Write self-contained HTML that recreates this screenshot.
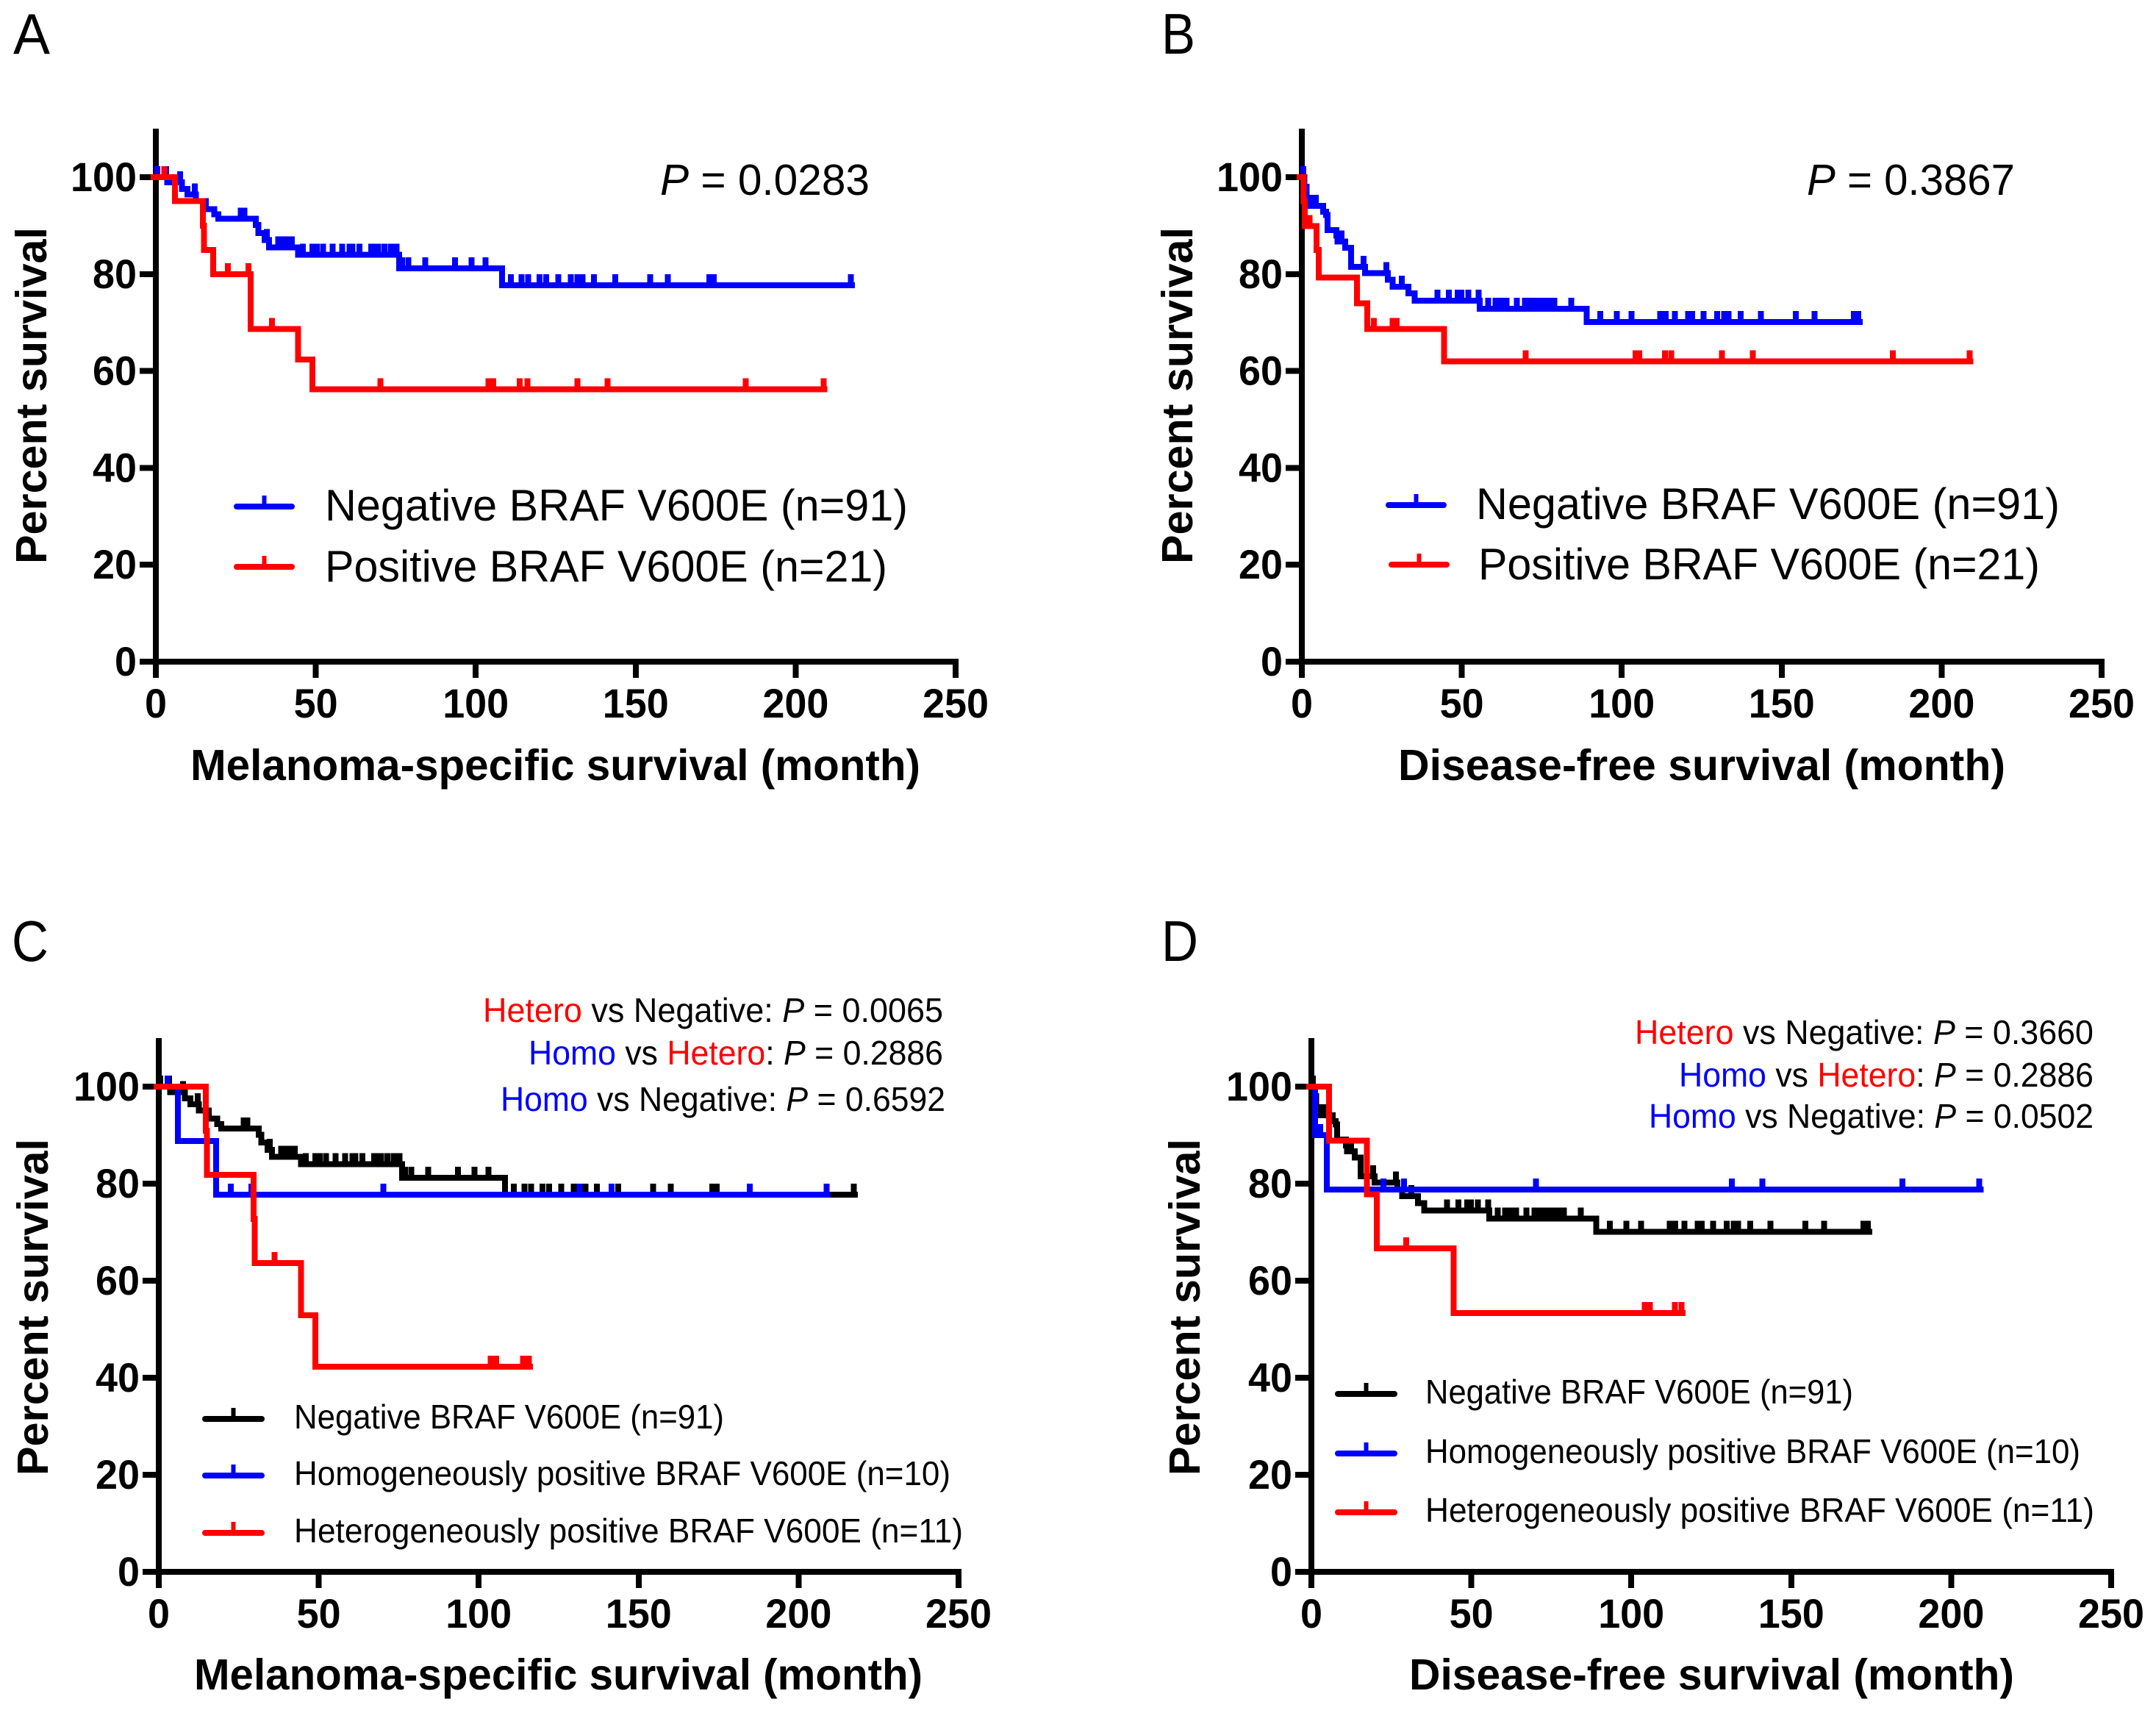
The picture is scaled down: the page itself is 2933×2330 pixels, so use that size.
<!DOCTYPE html>
<html>
<head>
<meta charset="utf-8">
<title>Survival curves by BRAF V600E status</title>
<style>
html,body{margin:0;padding:0;background:#fff;}
svg{display:block;}
text{font-family:"Liberation Sans",sans-serif;fill:#000;}
.b{font-weight:bold;}
.panel-letter{font-size:78px;}
.title{font-size:59px;font-weight:bold;}
.leg{font-size:60px;}
.leg2{font-size:46px;}
.ann{font-size:46px;}
.pv{font-size:59px;}
.tick{font-size:56px;font-weight:bold;}
</style>
</head>
<body>
<svg id="figure" xmlns="http://www.w3.org/2000/svg" width="2933" height="2330" viewBox="0 0 2933 2330">
<rect width="2933" height="2330" fill="#fff"/>

<g id="panel-a">
<text class="panel-letter" x="18" y="73" textLength="50" lengthAdjust="spacingAndGlyphs">A</text>
<text class="pv" x="898" y="265" textLength="285" lengthAdjust="spacingAndGlyphs"><tspan font-style="italic">P</tspan> = 0.0283</text>
<text class="title" x="259" y="1061" textLength="993" lengthAdjust="spacingAndGlyphs">Melanoma-specific survival (month)</text>
<text class="title" transform="translate(63,767) rotate(-90)" textLength="458" lengthAdjust="spacingAndGlyphs">Percent survival</text>
<text class="leg" x="442" y="708" textLength="793" lengthAdjust="spacingAndGlyphs">Negative BRAF V600E (n=91)</text>
<text class="leg" x="442" y="791" textLength="765" lengthAdjust="spacingAndGlyphs">Positive BRAF V600E (n=21)</text>
</g>

<g id="panel-b">
<text class="panel-letter" x="1580" y="73" textLength="46" lengthAdjust="spacingAndGlyphs">B</text>
<text class="pv" x="2458" y="265" textLength="283" lengthAdjust="spacingAndGlyphs"><tspan font-style="italic">P</tspan> = 0.3867</text>
<text class="title" x="1902" y="1061" textLength="826" lengthAdjust="spacingAndGlyphs">Disease-free survival (month)</text>
<text class="title" transform="translate(1622,767) rotate(-90)" textLength="458" lengthAdjust="spacingAndGlyphs">Percent survival</text>
<text class="leg" x="2008" y="706" textLength="794" lengthAdjust="spacingAndGlyphs">Negative BRAF V600E (n=91)</text>
<text class="leg" x="2011" y="788" textLength="764" lengthAdjust="spacingAndGlyphs">Positive BRAF V600E (n=21)</text>
</g>

<g id="panel-c">
<text class="panel-letter" x="16" y="1307" textLength="50" lengthAdjust="spacingAndGlyphs">C</text>
<text class="ann" x="657" y="1390" textLength="626" lengthAdjust="spacingAndGlyphs"><tspan fill="#f00">Hetero</tspan> vs Negative: <tspan font-style="italic">P</tspan> = 0.0065</text>
<text class="ann" x="719" y="1448" textLength="564" lengthAdjust="spacingAndGlyphs"><tspan fill="#00f">Homo</tspan> vs <tspan fill="#f00">Hetero</tspan>: <tspan font-style="italic">P</tspan> = 0.2886</text>
<text class="ann" x="681" y="1511" textLength="605" lengthAdjust="spacingAndGlyphs"><tspan fill="#00f">Homo</tspan> vs Negative: <tspan font-style="italic">P</tspan> = 0.6592</text>
<text class="title" x="264" y="2298" textLength="991" lengthAdjust="spacingAndGlyphs">Melanoma-specific survival (month)</text>
<text class="title" transform="translate(65,2007) rotate(-90)" textLength="458" lengthAdjust="spacingAndGlyphs">Percent survival</text>
<text class="leg2" x="400" y="1943" textLength="585" lengthAdjust="spacingAndGlyphs">Negative BRAF V600E (n=91)</text>
<text class="leg2" x="400" y="2020" textLength="893" lengthAdjust="spacingAndGlyphs">Homogeneously positive BRAF V600E (n=10)</text>
<text class="leg2" x="400" y="2098" textLength="910" lengthAdjust="spacingAndGlyphs">Heterogeneously positive BRAF V600E (n=11)</text>
</g>

<g id="panel-d">
<text class="panel-letter" x="1580" y="1307" textLength="50" lengthAdjust="spacingAndGlyphs">D</text>
<text class="ann" x="2224" y="1420" textLength="624" lengthAdjust="spacingAndGlyphs"><tspan fill="#f00">Hetero</tspan> vs Negative: <tspan font-style="italic">P</tspan> = 0.3660</text>
<text class="ann" x="2284" y="1478" textLength="564" lengthAdjust="spacingAndGlyphs"><tspan fill="#00f">Homo</tspan> vs <tspan fill="#f00">Hetero</tspan>: <tspan font-style="italic">P</tspan> = 0.2886</text>
<text class="ann" x="2243" y="1534" textLength="605" lengthAdjust="spacingAndGlyphs"><tspan fill="#00f">Homo</tspan> vs Negative: <tspan font-style="italic">P</tspan> = 0.0502</text>
<text class="title" x="1917" y="2298" textLength="823" lengthAdjust="spacingAndGlyphs">Disease-free survival (month)</text>
<text class="title" transform="translate(1632,2007) rotate(-90)" textLength="458" lengthAdjust="spacingAndGlyphs">Percent survival</text>
<text class="leg2" x="1939" y="1909" textLength="582" lengthAdjust="spacingAndGlyphs">Negative BRAF V600E (n=91)</text>
<text class="leg2" x="1939" y="1990" textLength="891" lengthAdjust="spacingAndGlyphs">Homogeneously positive BRAF V600E (n=10)</text>
<text class="leg2" x="1939" y="2070" textLength="910" lengthAdjust="spacingAndGlyphs">Heterogeneously positive BRAF V600E (n=11)</text>
</g>
</svg>

<script>
// Axis tick labels
const xTickLabels = [0, 50, 100, 150, 200, 250];
const yTickLabels = [0, 20, 40, 60, 80, 100];
const yAxisMax = 110;

// Melanoma-specific survival: BRAF V600E negative (n=91)
const msNegStepTimes = [3.6, 8.2, 9.9, 12.5, 15.6, 18.3, 19.5, 31.3, 32, 34, 35.4, 44.5, 76.1, 108.2];
const msNegStepSurvival = [98.9, 97.6, 96.4, 95.1, 93.4, 92.3, 91.4, 90.1, 88.5, 87, 85.5, 84, 81.2, 77.7];
const msNegCensored = [0.5, 3.2, 7.6, 12.2, 26.5, 27.7, 34.7, 38.3, 40.1, 41.6, 42.5, 45.9, 48.9, 50.3, 52.3, 55.3, 58.3, 60.6, 61.5, 63.7, 67.3, 68.4, 69.5, 71.5, 73.4, 75.3, 77, 78.9, 84.2, 93.5, 98.7, 103, 111, 114.3, 116.4, 120, 122, 125.8, 129.7, 131.8, 133.4, 137, 143.6, 154.5, 160, 173, 174.4, 217.2];
const msNegEnd = 217.6;

// Melanoma-specific survival: BRAF V600E positive (n=21)
const msPosStepTimes = [6, 14.7, 15, 17.9, 29.6, 44.5, 48.9];
const msPosStepSurvival = [95.1, 90, 85, 80, 68.7, 62.4, 56.2];
const msPosCensored = [2.6, 22.5, 28.9, 36.3, 70.2, 104, 105.5, 113.7, 116.2, 131.8, 141.2, 184.4, 208.8];
const msPosEnd = 209;

// Disease-free survival: BRAF V600E negative (n=91)
const dfNegStepTimes = [0.8, 1.5, 1.9, 6.7, 7.6, 8, 10.8, 11.1, 13.5, 15.4, 19.8, 26.9, 28.4, 33.3, 35.3, 55.6, 89];
const dfNegStepSurvival = [98, 95.3, 94.1, 92.9, 92.2, 89.1, 87.9, 86.7, 85.4, 81.5, 80.2, 78.8, 77.4, 76, 74.5, 72.8, 70.1];
const dfNegCensored = [0.5, 2.4, 3.4, 4.4, 11.6, 12.4, 19.3, 26.4, 31.3, 42.4, 45.9, 48.7, 49.9, 52.1, 55.3, 58.3, 60.5, 61.7, 62.8, 64, 67.2, 69.7, 70.9, 72, 73.2, 74.3, 75.5, 76.6, 77.8, 78.9, 84.2, 93.3, 98.5, 103, 112, 113.7, 116.6, 120.8, 122, 125.6, 129.8, 132, 133.4, 137.2, 143.5, 154.4, 160.3, 172.6, 174];
const dfNegEnd = 174.4;

// Disease-free survival: BRAF V600E positive (n=21)
const dfPosStepTimes = [0.55, 0.9, 4.6, 5.3, 17.2, 20.4, 44.5];
const dfPosStepSurvival = [95, 89.9, 85, 79.3, 74, 68.7, 62];
const dfPosCensored = [2.4, 22.5, 28.4, 29.6, 70, 104.3, 105.5, 113.5, 115.5, 131.3, 141, 184.7, 208.8];
const dfPosEnd = 209;

// Melanoma-specific survival: homogeneously positive (n=10)
const msHomoStepTimes = [6, 17.9];
const msHomoStepSurvival = [88.8, 77.7];
const msHomoCensored = [2.8, 22.5, 29, 70.2, 131.6, 141.5, 184.7, 208.8];
const msHomoEnd = 209;

// Melanoma-specific survival: heterogeneously positive (n=11)
const msHeteroStepTimes = [14.7, 15.1, 29.6, 30, 44.5, 49];
const msHeteroStepSurvival = [90.9, 81.8, 72.7, 63.6, 52.9, 42.3];
const msHeteroCensored = [36.2, 103.8, 105.5, 113.8, 115.7];
const msHeteroEnd = 116;

// Disease-free survival: homogeneously positive (n=10)
const dfHomoStepTimes = [1.2, 4.8];
const dfHomoStepSurvival = [90, 78.8];
const dfHomoCensored = [2.75, 22.5, 28.9, 70.2, 131.4, 141, 184.7, 208.8];
const dfHomoEnd = 209.2;

// Disease-free survival: heterogeneously positive (n=11)
const dfHeteroStepTimes = [5.5, 17.4, 20.4, 44.5];
const dfHeteroStepSurvival = [88.9, 77.8, 66.7, 53.3];
const dfHeteroCensored = [29.6, 104.2, 105.8, 113.6, 115.7];
const dfHeteroEnd = 116;

const NS = 'http://www.w3.org/2000/svg';
const BLACK = '#000', BLUE = '#00f', RED = '#f00';
const AXIS_W = 8, TICK_LEN = 22, CENSOR_H = 15;

function svgEl(parent, tag) {
  const el = document.createElementNS(NS, tag);
  parent.appendChild(el);
  return el;
}
function setAll(el, props) {
  for (const k in props) el.setAttribute(k, props[k]);
  return el;
}

function drawAxes(group, sx, sy) {
  const yAxis = svgEl(group, 'line');
  setAll(yAxis, {x1: sx(0), x2: sx(0), y1: sy(yAxisMax), y2: sy(0) + AXIS_W / 2, stroke: BLACK, 'stroke-width': AXIS_W, 'shape-rendering': 'crispEdges'});
  
  

  const xAxis = svgEl(group, 'line');
  setAll(xAxis, {x1: sx(0), x2: sx(xTickLabels[xTickLabels.length - 1]) + AXIS_W / 2, y1: sy(0), y2: sy(0), stroke: BLACK, 'stroke-width': AXIS_W, 'shape-rendering': 'crispEdges'});
  
  

  xTickLabels.forEach(function (v) {
    const t = svgEl(group, 'line');
    setAll(t, {x1: sx(v), x2: sx(v), y1: sy(0), y2: sy(0) + TICK_LEN, stroke: BLACK, 'stroke-width': AXIS_W, 'shape-rendering': 'crispEdges'});
    
    
    const l = svgEl(group, 'text');
    setAll(l, {x: sx(v), y: sy(0) + 76, 'text-anchor': 'middle', class: 'tick', textLength: String(v).length * 30, lengthAdjust: 'spacingAndGlyphs'});
    l.textContent = v;
    
    
  });
  yTickLabels.forEach(function (v) {
    const t = svgEl(group, 'line');
    setAll(t, {x1: sx(0) - TICK_LEN, x2: sx(0), y1: sy(v), y2: sy(v), stroke: BLACK, 'stroke-width': AXIS_W, 'shape-rendering': 'crispEdges'});
    
    
    const l = svgEl(group, 'text');
    setAll(l, {x: sx(0) - 26, y: sy(v) + 19, 'text-anchor': 'end', class: 'tick', textLength: String(v).length * 30, lengthAdjust: 'spacingAndGlyphs'});
    l.textContent = v;
    
    
  });
}

function survivalAt(t, times, surv) {
  let s = 100;
  for (let i = 0; i < times.length; i++) {
    if (times[i] <= t) s = surv[i];
  }
  return s;
}

function drawSeries(group, sx, sy, times, surv, censored, end, color, name) {
  const g = svgEl(group, 'g');
  
  
  let d = 'M' + (sx(0) - 3) + ' ' + sy(100);
  times.forEach(function (t, i) {
    d += 'H' + sx(t) + 'V' + sy(surv[i]);
  });
  d += 'H' + sx(end);
  const path = svgEl(g, 'path');
  setAll(path, {d: d, fill: 'none', stroke: color, 'stroke-width': 8, 'stroke-linejoin': 'miter', 'stroke-linecap': 'square', 'shape-rendering': 'crispEdges'});
  
  
  censored.forEach(function (t) {
    const y = sy(survivalAt(t, times, surv));
    const m = svgEl(g, 'line');
    setAll(m, {x1: sx(t), x2: sx(t), y1: y, y2: y - CENSOR_H, stroke: color, 'stroke-width': 8, 'shape-rendering': 'crispEdges'});
    
    
  });
}

function drawLegendLine(group, x1, x2, y, color) {
  const l = svgEl(group, 'line');
  setAll(l, {x1: x1, x2: x2, y1: y, y2: y, stroke: color, 'stroke-width': 8, 'stroke-linecap': 'round'});
  
  
  const m = svgEl(group, 'line');
  setAll(m, {x1: (x1 + x2) / 2, x2: (x1 + x2) / 2, y1: y, y2: y - 15, stroke: color, 'stroke-width': 6});
  
  
}

function makeScales(x0, x250, y100, y0) {
  return {
    sx: function (v) { return x0 + v * (x250 - x0) / 250; },
    sy: function (v) { return y0 - v * (y0 - y100) / 100; }
  };
}

(function () {
  const a = document.getElementById('panel-a');
  const s = makeScales(212, 1300, 241, 900);
  drawAxes(a, s.sx, s.sy);
  drawSeries(a, s.sx, s.sy, msNegStepTimes, msNegStepSurvival, msNegCensored, msNegEnd, BLUE, 'negative-curve');
  drawSeries(a, s.sx, s.sy, msPosStepTimes, msPosStepSurvival, msPosCensored, msPosEnd, RED, 'positive-curve');
  drawLegendLine(a, 322, 397, 689, BLUE);
  drawLegendLine(a, 322, 397, 771, RED);
})();

(function () {
  const b = document.getElementById('panel-b');
  const s = makeScales(1771, 2859, 241, 900);
  drawAxes(b, s.sx, s.sy);
  drawSeries(b, s.sx, s.sy, dfNegStepTimes, dfNegStepSurvival, dfNegCensored, dfNegEnd, BLUE, 'negative-curve');
  drawSeries(b, s.sx, s.sy, dfPosStepTimes, dfPosStepSurvival, dfPosCensored, dfPosEnd, RED, 'positive-curve');
  drawLegendLine(b, 1889, 1964, 687, BLUE);
  drawLegendLine(b, 1893, 1968, 768, RED);
})();

(function () {
  const c = document.getElementById('panel-c');
  const s = makeScales(216, 1304, 1478, 2138);
  drawAxes(c, s.sx, s.sy);
  drawSeries(c, s.sx, s.sy, msNegStepTimes, msNegStepSurvival, msNegCensored, msNegEnd, BLACK, 'negative-curve');
  drawSeries(c, s.sx, s.sy, msHomoStepTimes, msHomoStepSurvival, msHomoCensored, msHomoEnd, BLUE, 'homogeneous-curve');
  drawSeries(c, s.sx, s.sy, msHeteroStepTimes, msHeteroStepSurvival, msHeteroCensored, msHeteroEnd, RED, 'heterogeneous-curve');
  drawLegendLine(c, 279, 356, 1930, BLACK);
  drawLegendLine(c, 279, 356, 2007, BLUE);
  drawLegendLine(c, 279, 356, 2085, RED);
})();

(function () {
  const d = document.getElementById('panel-d');
  const s = makeScales(1784, 2872, 1478, 2138);
  drawAxes(d, s.sx, s.sy);
  drawSeries(d, s.sx, s.sy, dfNegStepTimes, dfNegStepSurvival, dfNegCensored, dfNegEnd, BLACK, 'negative-curve');
  drawSeries(d, s.sx, s.sy, dfHomoStepTimes, dfHomoStepSurvival, dfHomoCensored, dfHomoEnd, BLUE, 'homogeneous-curve');
  drawSeries(d, s.sx, s.sy, dfHeteroStepTimes, dfHeteroStepSurvival, dfHeteroCensored, dfHeteroEnd, RED, 'heterogeneous-curve');
  drawLegendLine(d, 1820, 1897, 1896, BLACK);
  drawLegendLine(d, 1820, 1897, 1977, BLUE);
  drawLegendLine(d, 1820, 1897, 2057, RED);
})();
</script>
</body>
</html>
